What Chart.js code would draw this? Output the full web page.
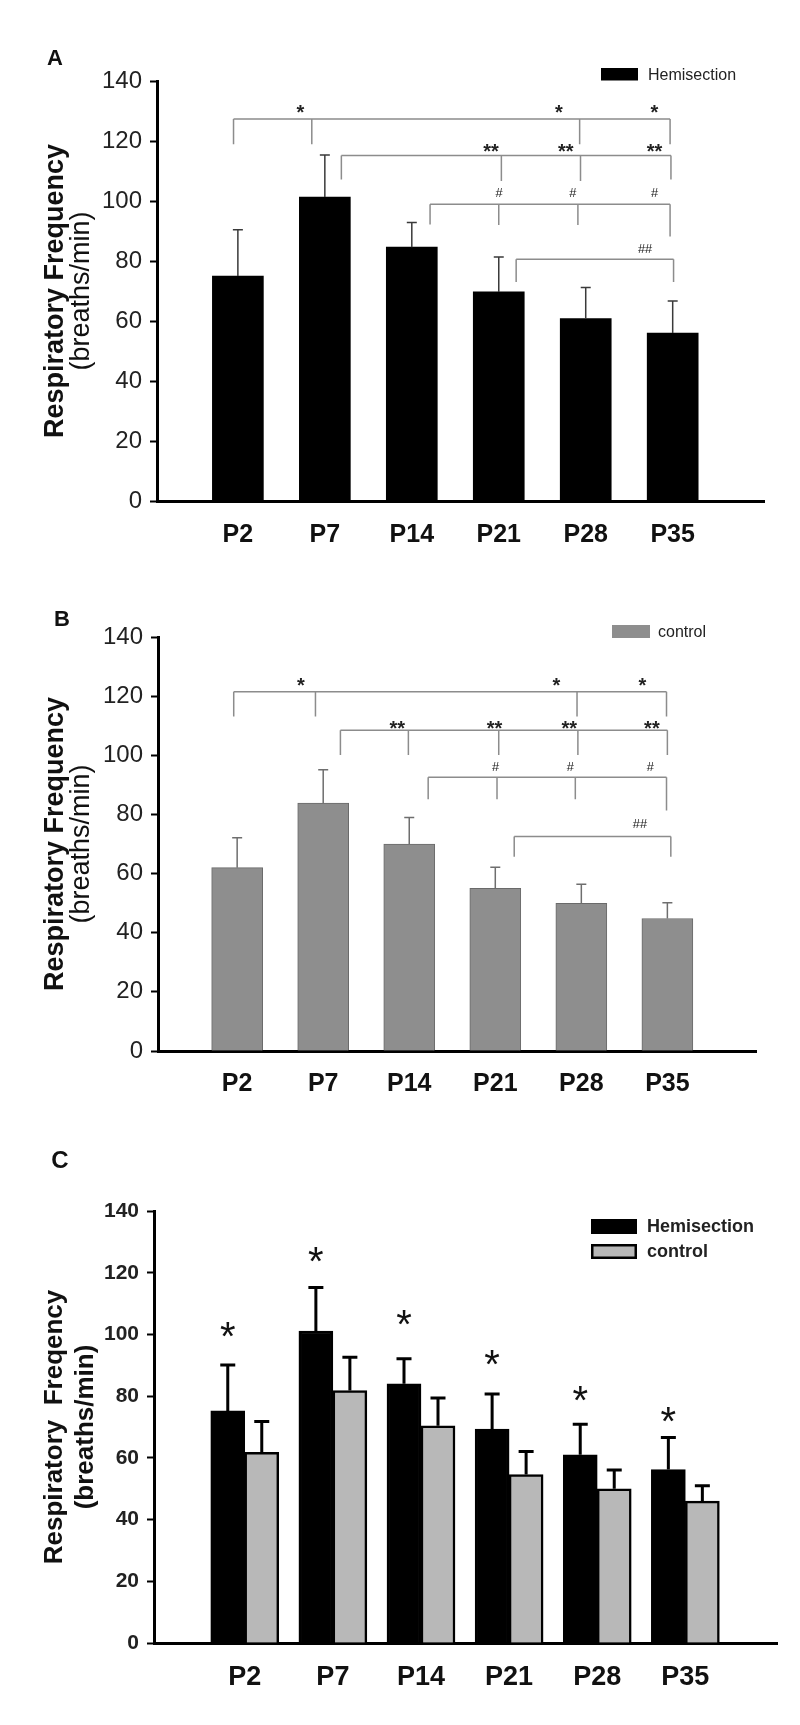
<!DOCTYPE html>
<html>
<head>
<meta charset="utf-8">
<script src="https://cdn.jsdelivr.net/npm/chart.js@4.4.1/dist/chart.umd.min.js"></script>
<style>
  body { margin: 0; background: #fff; }
  .page { position: relative; width: 800px; height: 1725px; }
  canvas { position: absolute; left: 0; }
</style>
</head>
<body>
<div class="page">
  <canvas id="panelA" width="800" height="560" style="top:0px"></canvas>
  <canvas id="panelB" width="800" height="540" style="top:560px"></canvas>
  <canvas id="panelC" width="800" height="625" style="top:1100px"></canvas>
</div>
<script>
// data
const categories = ["P2", "P7", "P14", "P21", "P28", "P35"];
const yTicks = [0, 20, 40, 60, 80, 100, 120, 140];

const hemiA = [75, 101.3, 84.6, 69.7, 60.8, 56];
const hemiErrA = [15.4, 14, 8.2, 11.6, 10.4, 10.7];

const ctrlB = [62, 83.8, 70, 55, 49.9, 44.8];
const ctrlErrB = [10.1, 11.3, 9, 7.1, 6.5, 5.3];

const hemiC = [75.2, 101.1, 84, 69.3, 61, 56.2];
const hemiErrC = [14.9, 14.1, 8.1, 11.4, 9.9, 10.4];
const ctrlC = [61.8, 81.8, 70.4, 54.6, 50, 46];
const ctrlErrC = [10, 10.8, 9, 7.5, 6.1, 5];
const starsC = ["*", "*", "*", "*", "*", "*"];
const starLevelC = [100.9, 125.2, 104.8, 91.7, 80, 73.4];

// significance brackets: drops are [category position, bottom value]
const bracketsA = [
  { y: 127.3, drops: [[-0.05, 118.9], [0.85, 118.9], [3.93, 118.9], [4.97, 118.9]], mark: "*", markY: 130.5, marks: [0.72, 3.69, 4.79] },
  { y: 115.2, drops: [[1.19, 107.2], [3.03, 106.7], [3.94, 106.7], [4.98, 107.2]], mark: "**", markY: 117.2, marks: [2.91, 3.77, 4.79] },
  { y: 98.9, drops: [[2.21, 92.2], [3.0, 92], [3.91, 92], [4.97, 88.2]], mark: "#", markY: 102.7, marks: [3.0, 3.85, 4.79] },
  { y: 80.6, drops: [[3.2, 73], [5.01, 73]], mark: "##", markY: 83.9, marks: [4.68] }
];
const bracketsB = [
  { y: 121.5, drops: [[-0.04, 113.1], [0.91, 113.1], [3.95, 113.1], [4.99, 113.1]], mark: "*", markY: 124.4, marks: [0.74, 3.71, 4.71] },
  { y: 108.5, drops: [[1.2, 100.1], [1.99, 100.1], [3.04, 100.1], [3.96, 100.1], [5.0, 100.1]], mark: "**", markY: 110, marks: [1.86, 2.99, 3.86, 4.82] },
  { y: 92.6, drops: [[2.22, 85.1], [3.02, 85.1], [3.93, 85.1], [4.99, 81.3]], mark: "#", markY: 96, marks: [3.0, 3.87, 4.8] },
  { y: 72.5, drops: [[3.22, 65.7], [5.04, 65.7]], mark: "##", markY: 76.8, marks: [4.68] }
];

Chart.defaults.font.family = "'Liberation Sans', Arial, sans-serif";

function points(values) {
  return values.map((v, i) => ({ x: i, y: v }));
}

const extras = {
  id: "extras",
  afterDatasetsDraw(chart, args, o) {
    const { ctx, chartArea } = chart;
    const x = chart.scales.x, y = chart.scales.y;
    ctx.save();

    // error bars (upper only)
    chart.data.datasets.forEach((ds, di) => {
      chart.getDatasetMeta(di).data.forEach((bar, i) => {
        const top = y.getPixelForValue(ds.data[i].y + ds.errors[i]);
        ctx.strokeStyle = o.errColor;
        ctx.lineWidth = o.errWidth;
        ctx.beginPath();
        ctx.moveTo(bar.x, bar.y);
        ctx.lineTo(bar.x, top);
        ctx.moveTo(bar.x - o.capHalf, top);
        ctx.lineTo(bar.x + o.capHalf, top);
        ctx.stroke();
      });
    });

    // brackets
    (o.brackets || []).forEach(b => {
      const yl = y.getPixelForValue(b.y);
      const xs = b.drops.map(d => x.getPixelForValue(d[0]));
      ctx.strokeStyle = "#8c8c8c";
      ctx.lineWidth = 1.5;
      ctx.beginPath();
      ctx.moveTo(xs[0], yl);
      ctx.lineTo(xs[xs.length - 1], yl);
      b.drops.forEach((d, k) => {
        ctx.moveTo(xs[k], yl);
        ctx.lineTo(xs[k], y.getPixelForValue(d[1]));
      });
      ctx.stroke();
      const hash = b.mark.startsWith("#");
      ctx.fillStyle = "#222";
      ctx.font = hash ? "italic 13px 'Liberation Sans'" : "bold 20px 'Liberation Sans'";
      ctx.textAlign = "center";
      ctx.textBaseline = "middle";
      b.marks.forEach(m => {
        ctx.fillText(b.mark, x.getPixelForValue(m), y.getPixelForValue(b.markY) + (hash ? 0 : 3.5));
      });
    });

    // stars above the hemisection bars
    if (o.stars) {
      ctx.fillStyle = "#111";
      ctx.font = "40px 'Liberation Sans'";
      ctx.textAlign = "center";
      ctx.textBaseline = "middle";
      chart.getDatasetMeta(0).data.forEach((bar, i) => {
        ctx.fillText(o.stars[i], bar.x, y.getPixelForValue(o.starLevels[i]) + 7);
      });
    }

    // legend
    const lg = o.legend;
    chart.data.datasets.forEach((ds, di) => {
      const by = lg.y + di * lg.step;
      ctx.fillStyle = ds.backgroundColor;
      ctx.fillRect(lg.x, by, lg.w, lg.h);
      if (lg.border) {
        ctx.strokeStyle = ds.borderColor;
        ctx.lineWidth = lg.border;
        ctx.strokeRect(lg.x + lg.border / 2, by + lg.border / 2, lg.w - lg.border, lg.h - lg.border);
      }
      ctx.fillStyle = "#222";
      ctx.font = lg.font;
      ctx.textAlign = "left";
      ctx.textBaseline = "middle";
      ctx.fillText(ds.label, lg.textX, by + lg.h / 2 + 1);
    });

    // y axis title, two lines
    const t = o.title;
    const cy = (chartArea.top + chartArea.bottom) / 2;
    ctx.fillStyle = "#111";
    ctx.textAlign = "center";
    ctx.textBaseline = "middle";
    [[t.text1, t.font1, t.x1], [t.text2, t.font2, t.x2]].forEach(([txt, font, tx]) => {
      ctx.save();
      ctx.translate(tx, cy);
      ctx.rotate(-Math.PI / 2);
      ctx.font = font;
      ctx.fillText(txt, 0, 0);
      ctx.restore();
    });

    // panel letter
    ctx.font = o.letter.font;
    ctx.fillText(o.letter.text, o.letter.x, o.letter.y);
    ctx.restore();
  }
};

function makePanel(id, p) {
  return new Chart(document.getElementById(id), {
    type: "bar",
    data: { datasets: p.datasets },
    options: {
      responsive: false,
      animation: false,
      events: [],
      layout: { padding: { top: p.padTop, right: p.padRight, left: 0, bottom: 0 } },
      scales: {
        x: {
          type: "linear",
          offset: false,
          min: p.xMin,
          max: p.xMax,
          afterBuildTicks: s => { s.ticks = categories.map((c, i) => ({ value: i })); },
          afterFit: s => { s.height = p.xHeight; },
          grid: { display: true, offset: false, drawOnChartArea: false, drawTicks: false, color: "rgba(0,0,0,0)" },
          border: { display: true, color: "#000", width: 3 },
          ticks: {
            callback: v => categories[v],
            color: "#111",
            font: p.xFont,
            padding: p.xPad,
            maxRotation: 0,
            autoSkip: false
          }
        },
        y: {
          min: 0,
          max: 140,
          afterBuildTicks: s => { s.ticks = yTicks.map(v => ({ value: v })); },
          afterFit: s => { s.width = p.yWidth; },
          grid: { drawOnChartArea: false, drawTicks: true, tickLength: 7, tickWidth: 2, color: "#000" },
          border: { display: true, color: "#000", width: 3 },
          ticks: { color: "#222", font: p.yFont, padding: 8 }
        }
      },
      plugins: {
        legend: { display: false },
        tooltip: { enabled: false },
        extras: p.extras
      }
    },
    plugins: [extras]
  });
}

makePanel("panelA", {
  padTop: 81, padRight: 36, yWidth: 157, xHeight: 59, xMin: -0.93, xMax: 6.05,
  xFont: { size: 25, weight: "bold" }, xPad: 19, yFont: { size: 24 },
  datasets: [{
    label: "Hemisection", data: points(hemiA), errors: hemiErrA,
    backgroundColor: "#000", borderColor: "#000", borderWidth: 0, barThickness: 51
  }],
  extras: {
    errColor: "#3a3a3a", errWidth: 1.5, capHalf: 5,
    brackets: bracketsA,
    legend: { x: 601, y: 68, w: 37, h: 12.5, step: 0, textX: 648, font: "16px 'Liberation Sans'" },
    title: { text1: "Respiratory Frequency", font1: "bold 27px 'Liberation Sans'", x1: 56,
             text2: "(breaths/min)", font2: "27px 'Liberation Sans'", x2: 82 },
    letter: { text: "A", font: "bold 22px 'Liberation Sans'", x: 55, y: 59 }
  }
});

makePanel("panelB", {
  padTop: 77, padRight: 44, yWidth: 158, xHeight: 49, xMin: -0.92, xMax: 6.03,
  xFont: { size: 25, weight: "bold" }, xPad: 18, yFont: { size: 24 },
  datasets: [{
    label: "control", data: points(ctrlB), errors: ctrlErrB,
    backgroundColor: "#8e8e8e", borderColor: "#6a6a6a", borderWidth: 1, barThickness: 51
  }],
  extras: {
    errColor: "#6e6e6e", errWidth: 1.5, capHalf: 5,
    brackets: bracketsB,
    legend: { x: 612, y: 65, w: 38, h: 13, step: 0, textX: 658, font: "16px 'Liberation Sans'" },
    title: { text1: "Respiratory Frequency", font1: "bold 27px 'Liberation Sans'", x1: 56,
             text2: "(breaths/min)", font2: "27px 'Liberation Sans'", x2: 82 },
    letter: { text: "B", font: "bold 22px 'Liberation Sans'", x: 62, y: 60 }
  }
});

makePanel("panelC", {
  padTop: 111, padRight: 23, yWidth: 154, xHeight: 82, xMin: -1.03, xMax: 6.04,
  xFont: { size: 27, weight: "bold" }, xPad: 18, yFont: { size: 21, weight: "bold" },
  datasets: [
    { label: "Hemisection", data: points(hemiC), errors: hemiErrC,
      backgroundColor: "#000", borderColor: "#000", borderWidth: 2.5, barThickness: 34 },
    { label: "control", data: points(ctrlC), errors: ctrlErrC,
      backgroundColor: "#b8b8b8", borderColor: "#000", borderWidth: 2.5, barThickness: 34 }
  ],
  extras: {
    errColor: "#000", errWidth: 3, capHalf: 7.5,
    stars: starsC, starLevels: starLevelC,
    legend: { x: 591, y: 119, w: 46, h: 15, step: 25, border: 2.5, textX: 647, font: "bold 18px 'Liberation Sans'" },
    title: { text1: "Respiratory  Freqency", font1: "bold 26px 'Liberation Sans'", x1: 55,
             text2: "(breaths/min)", font2: "bold 26px 'Liberation Sans'", x2: 86 },
    letter: { text: "C", font: "bold 24px 'Liberation Sans'", x: 60, y: 61 }
  }
});
</script>
</body>
</html>
